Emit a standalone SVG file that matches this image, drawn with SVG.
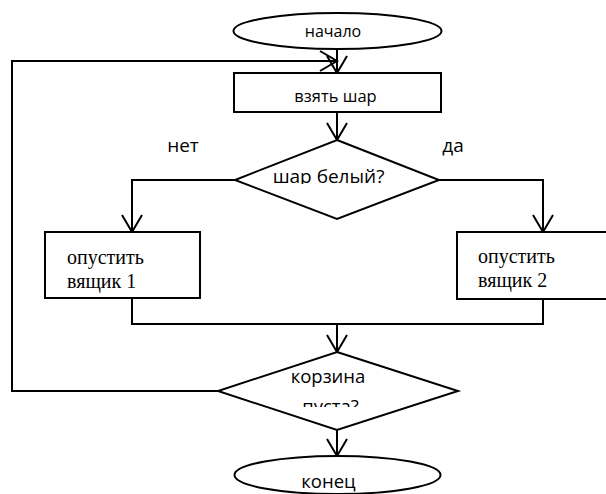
<svg xmlns="http://www.w3.org/2000/svg" width="606" height="494" viewBox="0 0 606 494">
<style>
.shape{fill:#fff;stroke:#000;stroke-width:2}
.conn{fill:none;stroke:#000;stroke-width:2}
.sans{font-family:"Open Sans","Liberation Sans",sans-serif;font-size:16px;fill:#000;text-anchor:middle}
.big{font-size:18.5px}
.lbl{font-size:19px}
.serif{font-family:"Liberation Serif","Times New Roman",serif;font-size:20px;fill:#000}
</style>
<defs>
<marker id="arr" markerUnits="userSpaceOnUse" markerWidth="40" markerHeight="40" refX="0" refY="0" viewBox="-20 -20 40 40" orient="auto" overflow="visible">
<path d="M-17,-10 L0,0 L-17,10" fill="none" stroke="#000" stroke-width="2"/>
</marker>
<clipPath id="clipPusta"><rect x="200" y="360" width="260" height="47"/></clipPath>
<clipPath id="clipShar"><rect x="240" y="150" width="200" height="34"/></clipPath>
</defs>
<rect width="606" height="494" fill="#fff"/>
<g id="connectors">
<path class="conn" d="M337,49 V73" marker-end="url(#arr)"/>
<path class="conn" d="M218,391 H12 V61 H337" marker-end="url(#arr)"/>
<path class="conn" d="M337,112 V140" marker-end="url(#arr)"/>
<path class="conn" d="M235,180 H132 V232" marker-end="url(#arr)"/>
<path class="conn" d="M439,180 H543 V232" marker-end="url(#arr)"/>
<path class="conn" d="M132,298 V324 H543 V299"/>
<path class="conn" d="M337,324 V352" marker-end="url(#arr)"/>
<path class="conn" d="M337,430 V456" marker-end="url(#arr)"/>
</g>
<g id="start">
<ellipse class="shape" cx="337.5" cy="31" rx="104" ry="18"/>
<text class="sans" x="333" y="37">начало</text>
</g>
<g id="take">
<rect class="shape" x="234" y="73" width="207" height="39"/>
<text class="sans" x="335.5" y="102" style="font-size:16.5px">взять шар</text>
</g>
<g id="decision1">
<polygon class="shape" points="337,140 439,180 337,219 235,180"/>
<text class="sans lbl" x="328.5" y="183" clip-path="url(#clipShar)">шар белый?</text>
</g>
<g id="labels">
<text class="sans lbl" x="183" y="152">нет</text>
<text class="sans lbl" x="453" y="152">да</text>
</g>
<g id="box1">
<rect class="shape" x="45" y="232" width="155" height="66"/>
<text class="serif" x="67" y="264">опустить</text>
<text class="serif" x="67" y="288">вящик 1</text>
</g>
<g id="box2">
<rect class="shape" x="457" y="232" width="160" height="67"/>
<text class="serif" x="478" y="263">опустить</text>
<text class="serif" x="478" y="287">вящик 2</text>
</g>
<g id="decision2">
<polygon class="shape" points="337,352 458,391 337,430 218,391"/>
<text class="sans big" x="328" y="383">корзина</text>
<text class="sans big" x="330.5" y="413" clip-path="url(#clipPusta)">пуста?</text>
</g>
<g id="end">
<ellipse class="shape" cx="337.5" cy="475" rx="103" ry="19"/>
<text class="sans big" x="328.5" y="488">конец</text>
</g>
</svg>
